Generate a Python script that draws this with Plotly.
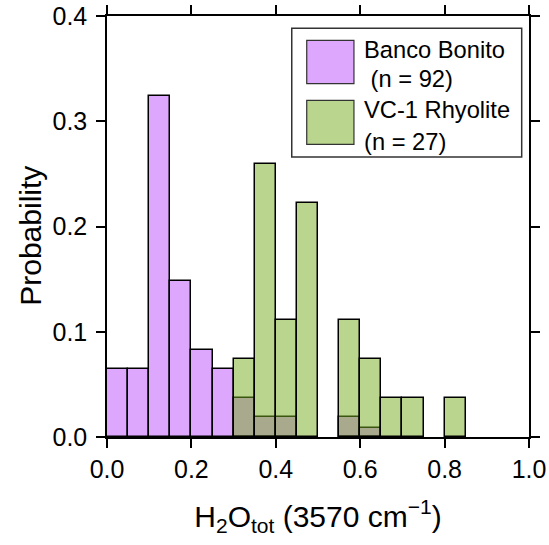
import plotly.graph_objects as go

# Histogram bins: 0.05-wide intervals of H2O_tot from 0.0 to 1.0
bin_left = [round(0.05 * i, 2) for i in range(20)]
bin_width = 0.05

# Probability per bin
banco_bonito = [0.065, 0.065, 0.324, 0.148, 0.083, 0.065, 0.037, 0.019, 0.019, 0.0,
                0.0, 0.019, 0.009, 0.0, 0.0, 0.0, 0.0, 0.0, 0.0, 0.0]
vc1_rhyolite = [0.0, 0.0, 0.0, 0.0, 0.0, 0.0, 0.074, 0.259, 0.111, 0.222,
                0.0, 0.111, 0.074, 0.037, 0.037, 0.0, 0.037, 0.0, 0.0, 0.0]

legend_names = ["Banco Bonito", "VC-1 Rhyolite"]
legend_counts = [" (n = 92)", "(n = 27)"]

x_ticks = [0.0, 0.2, 0.4, 0.6, 0.8, 1.0]
y_ticks = [0.0, 0.1, 0.2, 0.3, 0.4]

PURPLE = "rgb(221,167,253)"
GREEN_FILL = "rgba(117,173,29,0.5)"
GREEN_SWATCH = "rgb(186,214,142)"
FONT = "Liberation Sans, Arial, Helvetica, sans-serif"


def nonzero(values):
    xs, ys = [], []
    for left, v in zip(bin_left, values):
        if v > 0:
            xs.append(left + bin_width / 2)
            ys.append(v)
    return xs, ys


fig = go.Figure()
for values, fill in ((banco_bonito, PURPLE), (vc1_rhyolite, GREEN_FILL)):
    xs, ys = nonzero(values)
    fig.add_trace(go.Bar(
        x=xs, y=ys, width=bin_width,
        marker=dict(color=fill, line=dict(color="black", width=1.5)),
        showlegend=False, hoverinfo="x+y",
    ))

axis_common = dict(
    showline=True, linecolor="black", linewidth=1.5, mirror="ticks",
    ticks="outside", ticklen=9, tickwidth=1.5, tickcolor="black",
    showgrid=False, zeroline=False, automargin=False,
    tickfont=dict(family=FONT, size=25, color="black"),
)

fig.update_layout(
    width=549, height=545,
    margin=dict(l=107, r=20, t=16, b=108),
    paper_bgcolor="white", plot_bgcolor="white",
    barmode="overlay", bargap=0,
    font=dict(family=FONT, color="black"),
    xaxis=dict(
        range=[0, 1], tickvals=x_ticks, ticktext=[f"{t:.1f}" for t in x_ticks],
        title=dict(text="H<sub>2</sub>O<sub>tot</sub> (3570 cm<sup>\u22121</sup>)",
                   font=dict(family=FONT, size=30), standoff=24),
        **axis_common,
    ),
    yaxis=dict(
        range=[0, 0.4], tickvals=y_ticks, ticktext=[f"{t:.1f}" for t in y_ticks],
        ticklabelstandoff=4,
        **axis_common,
    ),
)

# Hand-drawn legend with large swatches
shapes = [dict(type="rect", xref="paper", yref="paper",
               x0=0.4378, x1=0.9827, y0=0.6651, y1=0.9708,
               line=dict(color="#333", width=1.5), fillcolor="white", layer="above")]
swatch_y = [(0.8394, 0.9423), (0.6952, 0.7998)]
swatch_colors = [PURPLE, GREEN_SWATCH]
for (y0, y1), c in zip(swatch_y, swatch_colors):
    shapes.append(dict(type="rect", xref="paper", yref="paper",
                       x0=0.4733, x1=0.5852, y0=y0, y1=y1,
                       line=dict(color="#333", width=1.2), fillcolor=c, layer="above"))

annotations = [dict(xref="paper", yref="paper", x=-0.1815, y=0.479,
                    text="Probability", textangle=-90, showarrow=False,
                    xanchor="center", yanchor="middle",
                    font=dict(family=FONT, size=30, color="black"))]
line_y = [(0.9185, 0.8497), (0.776, 0.7007)]
for name, count, (ya, yb) in zip(legend_names, legend_counts, line_y):
    for txt, yy in ((name, ya), (count, yb)):
        annotations.append(dict(xref="paper", yref="paper", x=0.6045, y=yy,
                                text=txt, showarrow=False, xanchor="left", yanchor="middle",
                                font=dict(family=FONT, size=23.7, color="black")))

fig.update_layout(shapes=shapes, annotations=annotations)
fig.write_html("out.html")
